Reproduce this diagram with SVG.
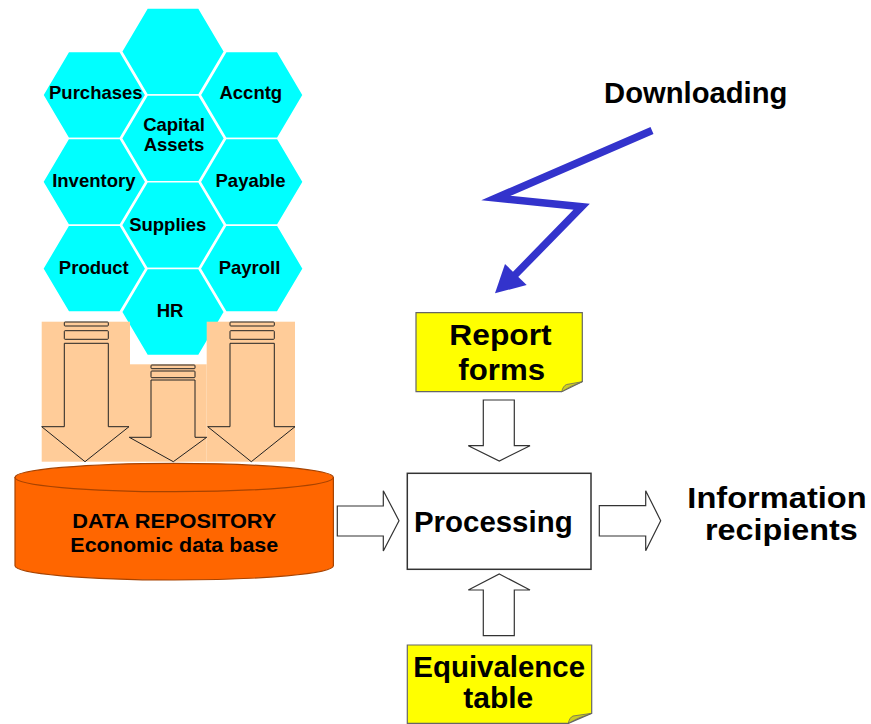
<svg xmlns="http://www.w3.org/2000/svg" xmlns:xlink="http://www.w3.org/1999/xlink" width="871" height="724" viewBox="0 0 871 724">
<style>
text{font-family:"Liberation Sans",Arial,Helvetica,sans-serif;font-weight:bold;fill:#000;text-anchor:middle}
.hx{fill:#00FFFF;stroke:#FFFFFF;stroke-width:1.5}
.ht{font-size:18.5px}
.big{font-size:29px}
.cyl{font-size:21px}
.peach{fill:#FFCC99}
.farrow{fill:#FFCC99;stroke:#222;stroke-width:1}
.barrow{fill:#FFFFFF;stroke:#333;stroke-width:1.2}
.note{fill:#FFFF00;stroke:#666;stroke-width:1.2}
.fold{fill:#CCCC22;stroke:#666;stroke-width:0.8}
</style>
<defs>
<polygon id="hex" points="-51.5,0 -25.8,-43.4 25.8,-43.4 51.5,0 25.8,43.4 -25.8,43.4"/>
</defs>
<rect width="871" height="724" fill="#FFFFFF"/>

<g id="hex-top"><use xlink:href="#hex" href="#hex" class="hx" x="173" y="51.5"/></g>
<g id="purchases"><use xlink:href="#hex" href="#hex" class="hx" x="94.3" y="95"/><text class="ht" x="95.8" y="99.3">Purchases</text></g>
<g id="accntg"><use xlink:href="#hex" href="#hex" class="hx" x="251.7" y="95"/><text class="ht" x="250.8" y="98.5">Accntg</text></g>
<g id="capital-assets"><use xlink:href="#hex" href="#hex" class="hx" x="173" y="138.4"/><text class="ht" x="174" y="131">Capital</text><text class="ht" x="174" y="151">Assets</text></g>
<g id="inventory"><use xlink:href="#hex" href="#hex" class="hx" x="94.3" y="181.8"/><text class="ht" x="93.8" y="186.7">Inventory</text></g>
<g id="payable"><use xlink:href="#hex" href="#hex" class="hx" x="251.7" y="181.8"/><text class="ht" x="250.5" y="186.7">Payable</text></g>
<g id="supplies"><use xlink:href="#hex" href="#hex" class="hx" x="173" y="225.2"/><text class="ht" x="167.7" y="230.7">Supplies</text></g>
<g id="product"><use xlink:href="#hex" href="#hex" class="hx" x="94.3" y="268.6"/><text class="ht" x="93.8" y="274">Product</text></g>
<g id="payroll"><use xlink:href="#hex" href="#hex" class="hx" x="251.7" y="268.6"/><text class="ht" x="249.5" y="273.5">Payroll</text></g>
<g id="hr"><use xlink:href="#hex" href="#hex" class="hx" x="173" y="312"/><text class="ht" x="170" y="317.3">HR</text></g>

<g id="feed-background">
<rect class="peach" x="41.7" y="321.7" width="88.3" height="140"/>
<rect class="peach" x="206.7" y="321.7" width="88.3" height="140"/>
<rect class="peach" x="130" y="364.3" width="76.7" height="97.4"/>
</g>

<g id="data-repository">
<path d="M15,477.5 V565.8 A159.2,14.2 0 0 0 333.4,565.8 V477.5 Z" fill="#FF6600" stroke="#A84300" stroke-width="1.2"/>
<ellipse cx="174.2" cy="477.5" rx="159.2" ry="14.2" fill="#FF6600" stroke="#A84300" stroke-width="1.2"/>
<text class="cyl" x="174.3" y="528.3" textLength="204" lengthAdjust="spacingAndGlyphs">DATA REPOSITORY</text>
<text class="cyl" x="174.3" y="551.7" textLength="208" lengthAdjust="spacingAndGlyphs">Economic data base</text>
</g>

<g id="processing">
<rect x="407.3" y="473.3" width="183.7" height="96" fill="#FFFFFF" stroke="#333" stroke-width="1.5"/>
<text class="big" x="493.3" y="532" textLength="158.7" lengthAdjust="spacingAndGlyphs">Processing</text>
</g>

<g id="report-forms">
<polygon class="note" points="416,312.7 582.3,312.7 582.3,381.7 561.7,391.7 416,391.7"/>
<path class="fold" d="M561.7,391.7 Q563,386 566.5,384.5 L582.3,381.7 Q570,386 561.7,391.7 Z"/>
<text class="big" x="500.5" y="345.3" textLength="102.3" lengthAdjust="spacingAndGlyphs">Report</text>
<text class="big" x="501.7" y="379.7" textLength="86.7" lengthAdjust="spacingAndGlyphs">forms</text>
</g>

<g id="equivalence-table">
<polygon class="note" points="407.3,645 591.7,645 591.7,713.3 568.3,723.3 407.3,723.3"/>
<path class="fold" d="M568.3,723.3 Q569.5,717.5 573,716 L591.7,713.3 Q578,717.5 568.3,723.3 Z"/>
<text class="big" x="499.2" y="676.7" textLength="171.7" lengthAdjust="spacingAndGlyphs">Equivalence</text>
<text class="big" x="498.3" y="708.3" textLength="70" lengthAdjust="spacingAndGlyphs">table</text>
</g>

<g id="downloading">
<text class="big" x="695.7" y="103.3" textLength="183.3" lengthAdjust="spacingAndGlyphs">Downloading</text>
</g>

<g id="information-recipients">
<text class="big" x="777" y="508.3" textLength="179.3" lengthAdjust="spacingAndGlyphs">Information</text>
<text class="big" x="781.3" y="540" textLength="152.7" lengthAdjust="spacingAndGlyphs">recipients</text>
</g>

<g id="connectors">
<g id="feed-left">
<rect class="farrow" x="64.3" y="322" width="44" height="4" rx="0.8"/>
<rect class="farrow" x="64.3" y="330.7" width="44" height="8.6" rx="0.8"/>
<polygon class="farrow" points="64.3,343.3 108.3,343.3 108.3,426.7 129,426.7 85,461.7 41.7,426.7 64.3,426.7"/>
</g>
<g id="feed-middle">
<rect class="farrow" x="151" y="365" width="44" height="3.7" rx="0.8"/>
<rect class="farrow" x="151" y="371" width="44" height="6.7" rx="0.8"/>
<polygon class="farrow" points="151,380 195,380 195,437.3 206.7,437.3 173.3,461.7 129.3,437.3 151,437.3"/>
</g>
<g id="feed-right">
<rect class="farrow" x="230" y="322" width="44.3" height="4" rx="0.8"/>
<rect class="farrow" x="230" y="330.7" width="44.3" height="8.6" rx="0.8"/>
<polygon class="farrow" points="230,343.3 274.3,343.3 274.3,426.7 295,426.7 251.3,461.7 207.7,426.7 230,426.7"/>
</g>
<polygon class="barrow" points="337.3,506 383.3,506 383.3,490.7 399,520.7 383.3,551 383.3,536 337.3,536"/>
<polygon class="barrow" points="599.3,505.7 645.7,505.7 645.7,490.7 660.7,520.7 645.7,550.7 645.7,536 599.3,536"/>
<polygon class="barrow" points="483.3,400 514.3,400 514.3,445.7 530,445.7 499.3,461 468.3,445.7 483.3,445.7"/>
<polygon class="barrow" points="499.3,574 530,590 514.3,590 514.3,635.7 483.3,635.7 483.3,590 468.3,590"/>
<polyline points="652,130.5 496,198 581.7,206.7 514,276" fill="none" stroke="#3333CC" stroke-width="7.5" stroke-linejoin="miter" stroke-miterlimit="10"/>
<polygon points="495,293.3 505,264 526.7,285" fill="#3333CC"/>
</g>
</svg>
